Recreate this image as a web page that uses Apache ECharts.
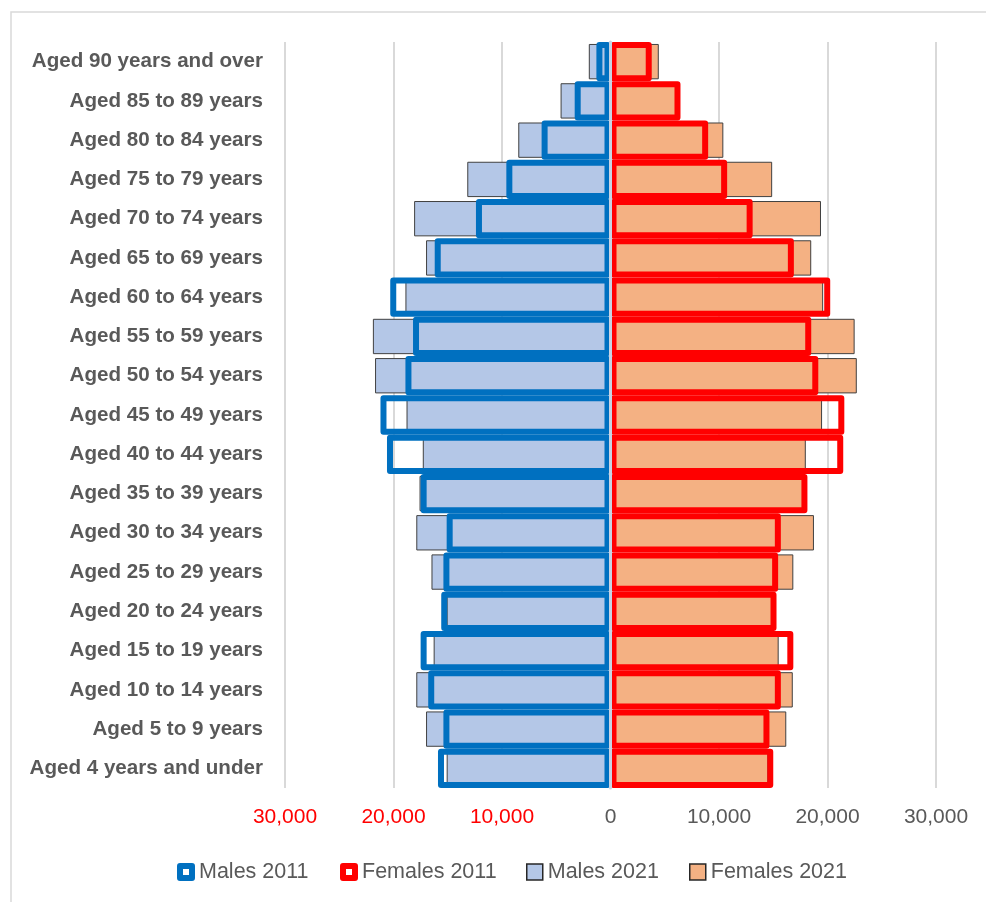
<!DOCTYPE html>
<html>
<head>
<meta charset="utf-8">
<style>
  html, body { margin: 0; padding: 0; background: #ffffff; }
  #chart { width: 986px; height: 902px; }
</style>
<script src="https://cdn.jsdelivr.net/npm/echarts@6/dist/echarts.min.js"></script>
</head>
<body>
<div id="chart"></div>
<script>
// Categories, top to bottom
const categories = [
  'Aged 90 years and over', 'Aged 85 to 89 years', 'Aged 80 to 84 years',
  'Aged 75 to 79 years', 'Aged 70 to 74 years', 'Aged 65 to 69 years',
  'Aged 60 to 64 years', 'Aged 55 to 59 years', 'Aged 50 to 54 years',
  'Aged 45 to 49 years', 'Aged 40 to 44 years', 'Aged 35 to 39 years',
  'Aged 30 to 34 years', 'Aged 25 to 29 years', 'Aged 20 to 24 years',
  'Aged 15 to 19 years', 'Aged 10 to 14 years', 'Aged 5 to 9 years',
  'Aged 4 years and under'
];
const males2011   = [1300, 3300, 6350, 9600, 12400, 16200, 20300, 18200, 18900, 21200, 20600, 17500, 15100, 15400, 15600, 17500, 16800, 15400, 15900];
const females2011 = [3800, 6450, 9000, 10750, 13100, 16900, 20250, 18500, 19150, 21550, 21450, 18150, 15700, 15450, 15300, 16850, 15700, 14650, 15000];
const males2021   = [2000, 4600, 8500, 13200, 18100, 17000, 18900, 21900, 21700, 18800, 17300, 17600, 17900, 16500, 15100, 16300, 17900, 17000, 15100];
const females2021 = [4450, 6300, 10400, 14900, 19400, 18500, 19600, 22500, 22700, 19500, 18000, 18000, 18750, 16850, 14900, 15500, 16800, 16200, 14550];
const xTicks = { min: -30000, max: 30000, interval: 10000 };

const GRAY = '#595959';
const FONT = 'Liberation Sans';

const chart = echarts.init(document.getElementById('chart'), null, { renderer: 'canvas' });

function legendBox(name, left, iconStyle, w, h, textPad) {
  return {
    show: true,
    left: left,
    top: 861,
    orient: 'horizontal',
    icon: 'rect',
    itemWidth: w,
    itemHeight: h,
    selectedMode: false,
    padding: 0,
    textStyle: { color: GRAY, fontFamily: FONT, fontSize: 21.5, padding: [0, 0, 0, textPad] },
    data: [{ name: name, itemStyle: iconStyle }]
  };
}

const option = {
  animation: false,
  backgroundColor: '#ffffff',
  textStyle: { fontFamily: FONT },
  graphic: [{
    type: 'rect',
    shape: { x: 11, y: 12, width: 1200, height: 1200 },
    style: { fill: 'none', stroke: '#D9D9D9', lineWidth: 1.5 },
    silent: true
  }],
  legend: [
    legendBox('Males 2011', 177, { color: '#ffffff', borderColor: '#0070C0', borderWidth: 6 }, 12, 12, 2),
    legendBox('Females 2011', 340, { color: '#ffffff', borderColor: '#FF0000', borderWidth: 6 }, 12, 12, 2),
    legendBox('Males 2021', 526, { color: '#B4C7E7', borderColor: '#262626', borderWidth: 1.5 }, 16, 16, 0),
    legendBox('Females 2021', 689, { color: '#F4B183', borderColor: '#262626', borderWidth: 1.5 }, 16, 16, 0)
  ],
  grid: { left: 285, right: 50, top: 42, bottom: 114, containLabel: false },
  xAxis: {
    type: 'value',
    min: xTicks.min,
    max: xTicks.max,
    interval: xTicks.interval,
    axisLine: { show: false },
    axisTick: { show: false },
    splitLine: { show: true, lineStyle: { color: '#D9D9D9', width: 2 } },
    axisLabel: {
      margin: 19,
      fontFamily: FONT,
      fontSize: 21,
      color: function (v) { return v < 0 ? '#FF0000' : GRAY; },
      formatter: function (v) { return Math.abs(v).toLocaleString('en-US'); }
    }
  },
  yAxis: [
    {
      type: 'category',
      data: categories,
      inverse: true,
      position: 'left',
      axisLine: { show: false, onZero: false },
      axisTick: { show: false },
      splitLine: { show: false },
      axisLabel: {
        margin: 22,
        fontFamily: FONT,
        fontSize: 20.6,
        fontWeight: 'bold',
        color: GRAY
      }
    },
    {
      type: 'category',
      data: categories,
      inverse: true,
      position: 'left',
      z: 10,
      axisLine: { show: true, onZero: true, lineStyle: { color: '#C8D3E3', width: 3 } },
      axisTick: { show: false },
      axisLabel: { show: false },
      splitLine: { show: false }
    }
  ],
  series: [
    {
      name: 'Males 2021',
      type: 'bar',
      yAxisIndex: 0,
      barGap: '-100%',
      barCategoryGap: '10%',
      data: males2021.map(function (v) { return -v; }),
      itemStyle: { color: '#B4C7E7', borderColor: '#404040', borderWidth: 1 }
    },
    {
      name: 'Females 2021',
      type: 'bar',
      yAxisIndex: 0,
      barGap: '-100%',
      barCategoryGap: '10%',
      data: females2021,
      itemStyle: { color: '#F4B183', borderColor: '#404040', borderWidth: 1 }
    },
    {
      name: 'Females 2011',
      type: 'bar',
      yAxisIndex: 1,
      barGap: '-100%',
      barCategoryGap: '0%',
      data: females2011,
      itemStyle: { color: 'rgba(0,0,0,0)', borderColor: '#FF0000', borderWidth: 6, borderJoin: 'round' }
    },
    {
      name: 'Males 2011',
      type: 'bar',
      yAxisIndex: 1,
      barGap: '-100%',
      barCategoryGap: '0%',
      data: males2011.map(function (v) { return -v; }),
      itemStyle: { color: 'rgba(0,0,0,0)', borderColor: '#0070C0', borderWidth: 6, borderJoin: 'round' }
    }
  ]
};

chart.setOption(option);
</script>
</body>
</html>
